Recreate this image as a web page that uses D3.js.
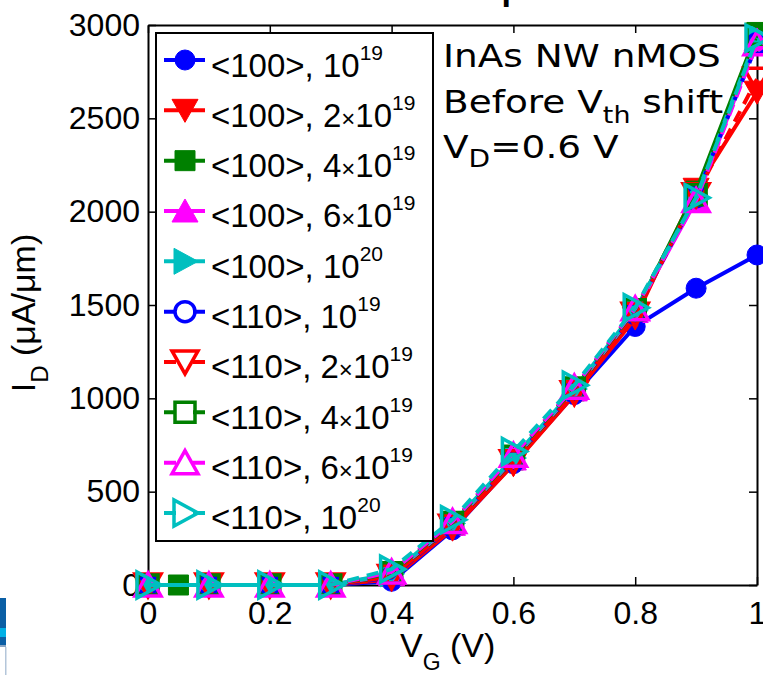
<!DOCTYPE html>
<html>
<head>
<meta charset="utf-8">
<script src="https://cdn.jsdelivr.net/npm/d3@7"></script>
<style>
  body { margin: 0; background: #fff; }
  svg { display: block; }
</style>
</head>
<body>
<svg id="chart" width="763" height="675"></svg>
<script>
// Gate voltage sweep (V). The <100> 4e19 run starts at 0.05 V.
var vg = [0, 0.1, 0.2, 0.3, 0.4, 0.5, 0.6, 0.7, 0.8, 0.9, 1.0];
var vgGreen = [0.05, 0.1, 0.2, 0.3, 0.4, 0.5, 0.6, 0.7, 0.8, 0.9, 1.0];

// Drain current (uA/um).
var id100_1e19 = [0, 0, 0, 0, 20, 295, 650, 1020, 1385, 1590, 1768];
var id100_2e19 = [0, 0, 0, 0, 30, 300, 645, 1020, 1430, 2120, 2640];
var id100_4e19 = [0, 0, 0, 0, 50, 320, 670, 1040, 1460, 2110, 2960];
var id100_6e19 = [0, 0, 0, 0, 55, 325, 675, 1045, 1465, 2060, 2920];
var id100_1e20 = [0, 0, 0, 0, 60, 330, 680, 1050, 1470, 2080, 2940];
var id110_1e19 = [0, 0, 0, 0, 40, 315, 665, 1035, 1455, 2080, 2900];
var id110_2e19 = [0, 0, 0, 0, 45, 315, 660, 1030, 1450, 2090, 2710];
var id110_4e19 = [0, 0, 0, 0, 65, 335, 690, 1055, 1475, 2090, 2950];
var id110_6e19 = [0, 0, 0, 0, 70, 340, 695, 1060, 1480, 2060, 2900];
var id110_1e20 = [0, 0, 0, 0, 85, 350, 715, 1070, 1485, 2075, 2930];

var orientations = ["<100>", "<110>"];
var dopingFactor = ["", "2", "4", "6", ""];
var dopingExp = ["19", "19", "19", "19", "20"];

var xTicks = [0, 0.2, 0.4, 0.6, 0.8, 1];
var yTicks = [0, 500, 1000, 1500, 2000, 2500, 3000];

var COLORS = ["#0000ff", "#ff0000", "#008000", "#ff00ff", "#00bfbf"];
var SHAPES = ["circle", "triDown", "square", "triUp", "triRight"];
var FONT = "'Liberation Sans', Arial, sans-serif";

var svg = d3.select("#chart");

var x = d3.scaleLinear().domain([0, 1]).range([148, 757]);
var y = d3.scaleLinear().domain([0, 3000]).range([585, 25]);

// Build the series table from the arrays above.
var currents = [id100_1e19, id100_2e19, id100_4e19, id100_6e19, id100_1e20,
                id110_1e19, id110_2e19, id110_4e19, id110_6e19, id110_1e20];
var series = currents.map(function(vals, i) {
  var k = i % 5;
  var xs = (i === 2) ? vgGreen : vg;
  return {
    orient: orientations[Math.floor(i / 5)],
    factor: dopingFactor[k],
    exp: dopingExp[k],
    color: COLORS[k],
    shape: SHAPES[k],
    open: i >= 5,
    points: vals.map(function(v, j) { return { v: xs[j], i: v }; })
  };
});

function markerPath(shape) {
  switch (shape) {
    case "circle":   return "M-10,0A10,10 0 1,0 10,0A10,10 0 1,0 -10,0Z";
    case "square":   return "M-10,-10L10,-10L10,10L-10,10Z";
    case "triDown":  return "M-13,-11L13,-11L0,12Z";
    case "triUp":    return "M-13,11L13,11L0,-12Z";
    case "triRight": return "M-11,-13L-11,13L13,0Z";
  }
}

function styleMarker(sel, s) {
  sel.attr("d", markerPath(s.shape))
     .attr("fill", s.open ? "none" : s.color)
     .attr("stroke", s.color)
     .attr("stroke-width", s.open ? 3.5 : 1);
}

// Cropped logo strip in the lower left corner.
svg.append("rect").attr("x", 0).attr("y", 598).attr("width", 6).attr("height", 30).attr("fill", "#0b5fa5");
svg.append("rect").attr("x", 0).attr("y", 628).attr("width", 6).attr("height", 9).attr("fill", "#00b0e6");
svg.append("rect").attr("x", 0).attr("y", 637).attr("width", 6).attr("height", 8).attr("fill", "#0b5fa5");
svg.append("rect").attr("x", 0).attr("y", 645).attr("width", 6).attr("height", 2).attr("fill", "#8aa6c4");
svg.append("rect").attr("x", 5).attr("y", 647).attr("width", 1.5).attr("height", 28).attr("fill", "#b4c6da");

// Title, mostly cut off above the frame.
svg.append("text")
  .attr("x", 426).attr("y", 0)
  .attr("font-family", FONT).attr("font-weight", "bold").attr("font-size", 34)
  .text("Comparison");

// Axes (box with inward ticks).
function styleAxis(g) {
  g.selectAll("path.domain").attr("stroke", "#000").attr("stroke-width", 2);
  g.selectAll(".tick line").attr("stroke", "#000").attr("stroke-width", 1.5);
  g.selectAll(".tick text").attr("font-family", FONT).attr("font-size", 32).attr("fill", "#000");
}

svg.append("g").attr("transform", "translate(0,585)")
  .call(d3.axisBottom(x).tickValues(xTicks).tickSize(-8).tickSizeOuter(0).tickPadding(16)
        .tickFormat(d3.format("~g")))
  .call(styleAxis);
svg.append("g").attr("transform", "translate(0,25)")
  .call(d3.axisTop(x).tickValues(xTicks).tickSize(-8).tickSizeOuter(0).tickFormat(""))
  .call(styleAxis);
svg.append("g").attr("transform", "translate(148,0)")
  .call(d3.axisLeft(y).tickValues(yTicks).tickSize(-8).tickSizeOuter(0).tickPadding(8)
        .tickFormat(d3.format("d")))
  .call(styleAxis);
svg.append("g").attr("transform", "translate(757,0)")
  .call(d3.axisRight(y).tickValues(yTicks).tickSize(-8).tickSizeOuter(0).tickFormat(""))
  .call(styleAxis);

// Axis labels.
var xl = svg.append("text").attr("x", 400).attr("y", 657)
  .attr("font-family", FONT).attr("font-size", 34);
xl.append("tspan").text("V");
xl.append("tspan").attr("dy", 13).attr("font-size", 23).text("G");
xl.append("tspan").attr("dy", -13).text(" (V)");

var yl = svg.append("text").attr("transform", "translate(35,313) rotate(-90)")
  .attr("text-anchor", "middle").attr("font-family", FONT).attr("font-size", 34);
yl.append("tspan").text("I");
yl.append("tspan").attr("dy", 13).attr("font-size", 24).text("D");
yl.append("tspan").attr("dy", -13).text(" (\u03bcA/\u03bcm)");

// Data curves, drawn series by series.
var line = d3.line()
  .x(function(d) { return x(d.v); })
  .y(function(d) { return y(d.i); });

series.forEach(function(s) {
  var g = svg.append("g");
  g.append("path")
    .attr("d", line(s.points))
    .attr("fill", "none")
    .attr("stroke", s.color)
    .attr("stroke-width", 4)
    .attr("stroke-dasharray", s.open ? "12,8" : null);
  g.selectAll("path.mk").data(s.points).enter().append("path")
    .attr("class", "mk")
    .attr("transform", function(d) { return "translate(" + x(d.v) + "," + y(d.i) + ")"; })
    .call(styleMarker, s);
});

// Legend.
var legend = svg.append("g");
legend.append("rect")
  .attr("x", 156).attr("y", 33).attr("width", 277).attr("height", 508)
  .attr("fill", "#fff").attr("stroke", "#000").attr("stroke-width", 2);

series.forEach(function(s, i) {
  var cy = 60 + i * 50.33;
  var row = legend.append("g");
  row.append("line")
    .attr("x1", 164).attr("x2", 205).attr("y1", cy).attr("y2", cy)
    .attr("stroke", s.color).attr("stroke-width", 4)
    .attr("stroke-dasharray", s.open ? "12,17" : null);
  row.append("path")
    .attr("transform", "translate(185," + cy + ")")
    .call(styleMarker, s);
  var t = row.append("text").attr("x", 211).attr("y", cy + 16.5)
    .attr("font-family", FONT).attr("font-size", 33);
  t.append("tspan").text(s.orient + ", ");
  if (s.factor) {
    t.append("tspan").text(s.factor);
    t.append("tspan").attr("font-size", 24).text("\u00d7");
  }
  t.append("tspan").text("10");
  t.append("tspan").attr("dy", -17).attr("font-size", 21).text(s.exp);
});

// Annotation in the upper right.
var note = svg.append("g").attr("transform", "translate(443,0) scale(1.17,1)")
  .attr("font-family", "'DejaVu Sans', Verdana, sans-serif").attr("font-size", 32);
note.append("text").attr("x", 0).attr("y", 67).text("InAs NW nMOS");
var n2 = note.append("text").attr("x", 0).attr("y", 113);
n2.append("tspan").text("Before V");
n2.append("tspan").attr("dy", 10).attr("font-size", 23).text("th");
n2.append("tspan").attr("dy", -10).text(" shift");
var n3 = note.append("text").attr("x", 0).attr("y", 158);
n3.append("tspan").text("V");
n3.append("tspan").attr("dy", 9).attr("font-size", 24).text("D");
n3.append("tspan").attr("dy", -9).text("=0.6 V");
</script>
</body>
</html>
